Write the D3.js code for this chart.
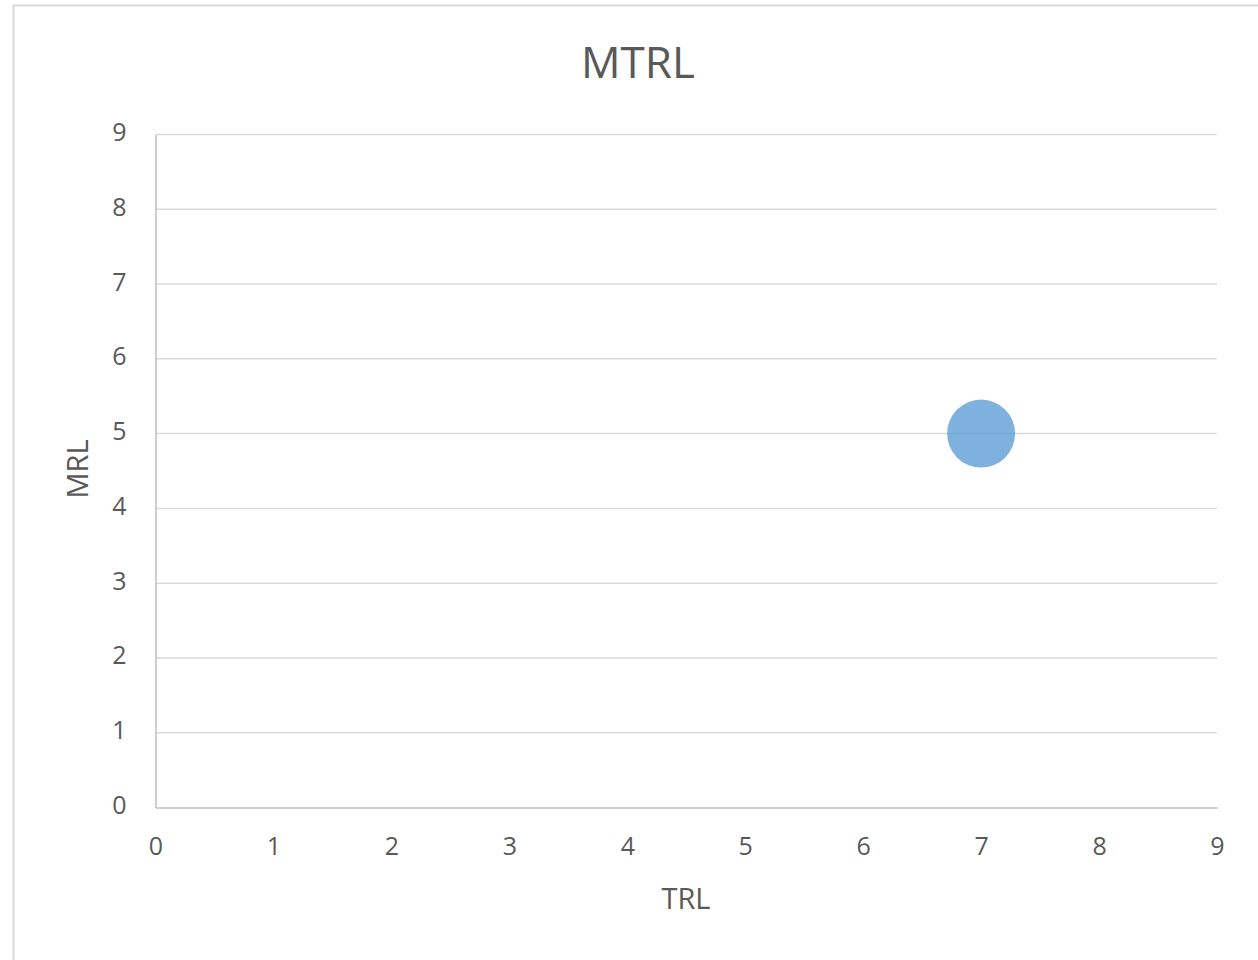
<!DOCTYPE html>
<html lang="en">
<head>
    <meta charset="utf-8">
    <script src='https://d3js.org/d3.v7.min.js'></script>
    <style>
        body { margin: 0; background: white; }
        text { font-family: 'Open Sans', 'Noto Sans', sans-serif; fill: #595959; }
    </style>
</head>
<body>
<script>
    var width = 1258, height = 960;

    // data
    var trl = [7];
    var mrl = [5];
    var bubbleSize = [1];
    var xTicks = [0, 1, 2, 3, 4, 5, 6, 7, 8, 9];
    var yTicks = [0, 1, 2, 3, 4, 5, 6, 7, 8, 9];
    var chartTitle = "MTRL", xTitle = "TRL", yTitle = "MRL";

    var points = trl.map(function(d, i) {
        return { x: d, y: mrl[i], size: bubbleSize[i] };
    });

    var svg = d3.select('body').append('svg').attr('width', width).attr('height', height);

    // chart border
    svg.append('rect')
        .attr('x', 13.5).attr('y', 5.5)
        .attr('width', 1260).attr('height', 970)
        .attr('fill', 'white')
        .attr('stroke', '#d9d9d9').attr('stroke-width', 2);

    var x = d3.scaleLinear().domain([0, 9]).range([155.5, 1217]);
    var y = d3.scaleLinear().domain([0, 9]).range([807.5, 134.5]);
    var r = d3.scaleSqrt().domain([0, 1]).range([0, 34]);

    // gridlines
    svg.append('g')
        .selectAll('line')
        .data(yTicks.filter(function(d) { return d > 0; }))
        .join('line')
        .attr('x1', x(0)).attr('x2', x(9))
        .attr('y1', function(d) { return y(d); })
        .attr('y2', function(d) { return y(d); })
        .attr('stroke', '#d9d9d9').attr('stroke-width', 1.5);

    // axes
    var xAxis = svg.append('g')
        .attr('transform', 'translate(0,' + y(0) + ')')
        .call(d3.axisBottom(x).tickValues(xTicks).tickSize(0));
    var yAxis = svg.append('g')
        .attr('transform', 'translate(' + x(0) + ',0)')
        .call(d3.axisLeft(y).tickValues(yTicks).tickSize(0).tickPadding(29));

    [xAxis, yAxis].forEach(function(a) {
        a.select('.domain').attr('stroke', '#bfbfbf').attr('stroke-width', 1.5);
        a.selectAll('text').style('font-size', '25px').attr('fill', '#595959');
    });
    yAxis.selectAll('text').attr('dy', '0.24em');
    xAxis.selectAll('text').attr('dy', '0.36em').attr('y', 38);

    // bubbles
    svg.append('g')
        .selectAll('circle')
        .data(points)
        .join('circle')
        .attr('cx', function(d) { return x(d.x); })
        .attr('cy', function(d) { return y(d.y); })
        .attr('r', function(d) { return r(d.size); })
        .attr('fill', '#5b9bd5')
        .attr('fill-opacity', 0.78);

    // titles
    svg.append('text')
        .attr('x', 638).attr('y', 66)
        .attr('text-anchor', 'middle').attr('dominant-baseline', 'middle')
        .style('font-size', '44px')
        .text(chartTitle);

    svg.append('text')
        .attr('x', 686).attr('y', 901)
        .attr('text-anchor', 'middle').attr('dominant-baseline', 'middle')
        .style('font-size', '29px')
        .text(xTitle);

    svg.append('text')
        .attr('transform', 'translate(80,469) rotate(-90)')
        .attr('text-anchor', 'middle').attr('dominant-baseline', 'middle')
        .style('font-size', '29px')
        .text(yTitle);
</script>
</body>
</html>
